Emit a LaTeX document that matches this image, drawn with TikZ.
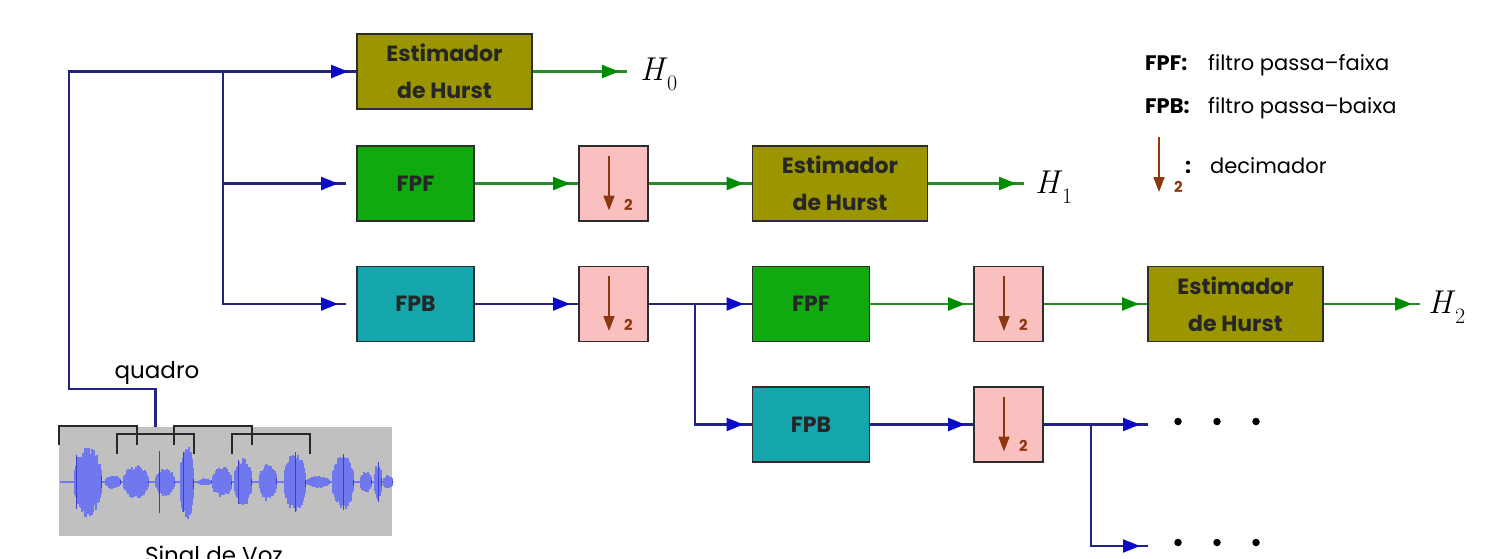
\documentclass[tikz,border=0pt]{standalone}
\usepackage[no-math]{fontspec}
\setmainfont{Poppins}
\newfontfamily\lmfont{Latin Modern Roman}
\usetikzlibrary{arrows.meta,decorations.markings}

\definecolor{olivebox}{RGB}{155,150,0}
\definecolor{fpfgreen}{RGB}{16,170,16}
\definecolor{fpbteal}{RGB}{20,166,170}
\definecolor{decpink}{RGB}{250,192,192}
\definecolor{boxline}{RGB}{45,45,45}
\definecolor{navy}{RGB}{35,35,130}
\definecolor{tipblue}{RGB}{10,10,200}
\definecolor{linegreen}{RGB}{40,140,40}
\definecolor{tipgreen}{RGB}{0,140,0}
\definecolor{brownarr}{RGB}{140,55,15}
\definecolor{wavegray}{RGB}{192,192,192}
\definecolor{wavelight}{RGB}{112,120,240}
\definecolor{wavedark}{RGB}{60,60,205}
\definecolor{bracketc}{RGB}{40,40,40}

\newcommand{\hsym}[1]{{\lmfont\itshape H}\hspace{3pt}\raisebox{-10pt}{\fontsize{22}{22}\selectfont\lmfont #1}}

\tikzset{
  blk/.style={draw=boxline, line width=1.8pt, minimum height=75pt, inner sep=0pt,
    font=\fontsize{22}{37}\selectfont\bfseries, align=center, text=black!85},
  est/.style={blk, fill=olivebox, minimum width=175pt},
  fpfbox/.style={blk, fill=fpfgreen, minimum width=117pt},
  fpbbox/.style={blk, fill=fpbteal, minimum width=117pt},
  decbox/.style={blk, fill=decpink, minimum width=69pt},
  bline/.style={navy, line width=2.2pt, postaction={decorate},
    decoration={markings, mark=at position -8pt with
      {\arrow[color=tipblue]{Triangle[length=17pt,width=13pt]}}}},
  gline/.style={linegreen, line width=2.2pt, postaction={decorate},
    decoration={markings, mark=at position -8pt with
      {\arrow[color=tipgreen]{Triangle[length=17pt,width=13pt]}}}},
  decarrow/.style={brownarr, line width=1.8pt, -{Triangle[length=15pt,width=11pt]}},
  two/.style={brownarr, inner sep=0pt, font=\fontsize{15}{15}\selectfont\bfseries},
  hlab/.style={inner sep=0pt, anchor=base west, font=\fontsize{33}{36}\selectfont},
  leg/.style={inner sep=0pt, anchor=base west, font=\fontsize{21}{24}\selectfont},
  legkey/.style={leg, font=\fontsize{21}{24}\selectfont\bfseries},
  plain/.style={inner sep=0pt, font=\fontsize{23}{26}\selectfont},
  dot/.style={circle, fill=black, minimum size=7.5pt, inner sep=0pt},
  bracket/.style={bracketc, line width=2pt, line join=miter},
}

\begin{document}
\begin{tikzpicture}[x=1pt, y=-1pt]
\fill[white] (0,0) rectangle (1490,558);
\clip (0,0) rectangle (1490,558);

% ---- blocks ----
\node[est]    (est0) at (444.5,71.5) {Estimador\\de Hurst};
\node[fpfbox] (fpf1) at (415.5,183.5) {FPF};
\node[decbox] (dec1) at (613.5,183.5) {};
\node[est]    (est1) at (840,183.5) {Estimador\\de Hurst};
\node[fpbbox] (fpb1) at (415.5,304) {FPB};
\node[decbox] (dec2) at (613.5,304) {};
\node[fpfbox] (fpf2) at (811,304) {FPF};
\node[decbox] (dec3) at (1008.5,304) {};
\node[est]    (est2) at (1235.5,304) {Estimador\\de Hurst};
\node[fpbbox] (fpb2) at (811,424.5) {FPB};
\node[decbox] (dec4) at (1008.5,424.5) {};

% decimator symbol inside each pink block
\foreach \d in {dec1,dec2,dec3,dec4}{
  \draw[decarrow] (\d.center) ++(-4.5,-28) -- ++(0,55);
  \node[two] (\d-two) at ([shift={(15,21)}]\d.center) {2};
}

% ---- outputs ----
\node[hlab] (h0) at (640,80) {\hsym{0}};
\node[hlab] (h1) at (1035,193) {\hsym{1}};
\node[hlab] (h2) at (1428,313) {\hsym{2}};

% ---- connection points ----
\coordinate (frame) at (155.5,434);
\coordinate (bend1) at (155.5,389);
\coordinate (bend2) at (69,389);
\coordinate (bend3) at (69,71.5);
\coordinate (j0) at (223,71.5);
\coordinate (j1) at (695,304);
\coordinate (j2) at (1091,424.5);
\coordinate (h0in) at (627,71.5);
\coordinate (h1in) at (1024,183.5);
\coordinate (h2in) at (1420,304);
\coordinate (more1) at (1148,424.5);
\coordinate (more2) at (1148,546);

% ---- connectors ----
\draw[bline] (frame) -- (bend1) -- (bend2) -- (bend3) -- (est0.west);
\draw[bline] (j0) |- ([xshift=-10pt]fpf1.west);
\draw[bline] (j0) |- ([xshift=-10pt]fpb1.west);
\draw[gline] (est0) -- (h0in);
\draw[gline] (fpf1) -- (dec1);
\draw[gline] (dec1) -- (est1);
\draw[gline] (est1) -- (h1in);
\draw[bline] (fpb1) -- (dec2);
\draw[bline] (dec2) -- (fpf2);
\draw[bline] (j1) |- (fpb2);
\draw[gline] (fpf2) -- (dec3);
\draw[gline] (dec3) -- (est2);
\draw[gline] (est2) -- (h2in);
\draw[bline] (fpb2) -- (dec4);
\draw[bline] (dec4) -- (more1);
\draw[bline] (j2) |- (more2);

% continuation dots
\foreach \n/\x in {1/1178,2/1217,3/1256}{
  \node[dot] (dotA\n) at (\x,421.5) {};
  \node[dot] (dotB\n) at (\x,542.5) {};
}

% ---- speech signal ----
\fill[wavegray] (59,427) rectangle (392,536);
\draw[wavelight, line width=1.2pt] (60,482) -- (391,482);
\pgfmathsetseed{4}
\foreach \c/\w/\a in {88/13/36, 113/7/7, 136/12/17, 165/9/14, 187/6/38, 205/6/4,
                     222/9/16, 243/8/25, 268/8/19, 295/10/30, 318/11/6, 343/10/28,
                     366/5/11, 378/3/18, 388/4/7}{
  \pgfmathtruncatemacro\wn{\w}
  \foreach \i in {-\wn,...,\wn}{
    \pgfmathsetmacro\u{\a*sqrt(1-(\i/(\w+1))^2)*(0.7+0.3*rnd)}
    \pgfmathsetmacro\v{\a*sqrt(1-(\i/(\w+1))^2)*(0.7+0.3*rnd)}
    \draw[wavelight, line width=1.4pt] (\c+\i,482-\u) -- (\c+\i,482+\v);
    \pgfmathsetmacro\s{\u*(0.15+0.4*rnd)}
    \pgfmathsetmacro\t{\v*(0.15+0.4*rnd)}
    \draw[wavedark, line width=1pt] (\c+\i,482-\s) -- (\c+\i,482+\t);
  }
}
\foreach \x/\a in {76/27, 159/31, 183/30, 238/22, 295/30, 343/28, 378/20}{
  \draw[wavedark, line width=0.9pt] (\x,482-\a) -- (\x,482+\a);
}

% analysis frames
\draw[bracket] (59,445) -- (59,426) -- (137,426) -- (137,445);
\draw[bracket] (117,454) -- (117,434) -- (194,434) -- (194,454);
\draw[bracket] (174,445) -- (174,426) -- (252,426) -- (252,445);
\draw[bracket] (232,454) -- (232,434) -- (310,434) -- (310,454);

\node[plain, anchor=base] (quadro) at (157,378) {quadro};
\node[plain, anchor=base] (sinal) at (214,563) {Sinal de Voz};

% ---- legend ----
\node[legkey] (kfpf) at (1145,70) {FPF:};
\node[leg]    (tfpf) at (1208,70) {filtro passa–faixa};
\node[legkey] (kfpb) at (1145,113) {FPB:};
\node[leg]    (tfpb) at (1208,113) {filtro passa–baixa};
\coordinate (legtop) at (1159,137);
\coordinate (legtip) at (1159,192);
\draw[decarrow] (legtop) -- (legtip);
\node[two, anchor=base west] (leg2) at (1174,192) {2};
\node[legkey] (legcolon) at (1185,173) {:};
\node[leg]    (tdec) at (1210,173) {decimador};
\end{tikzpicture}
\end{document}
